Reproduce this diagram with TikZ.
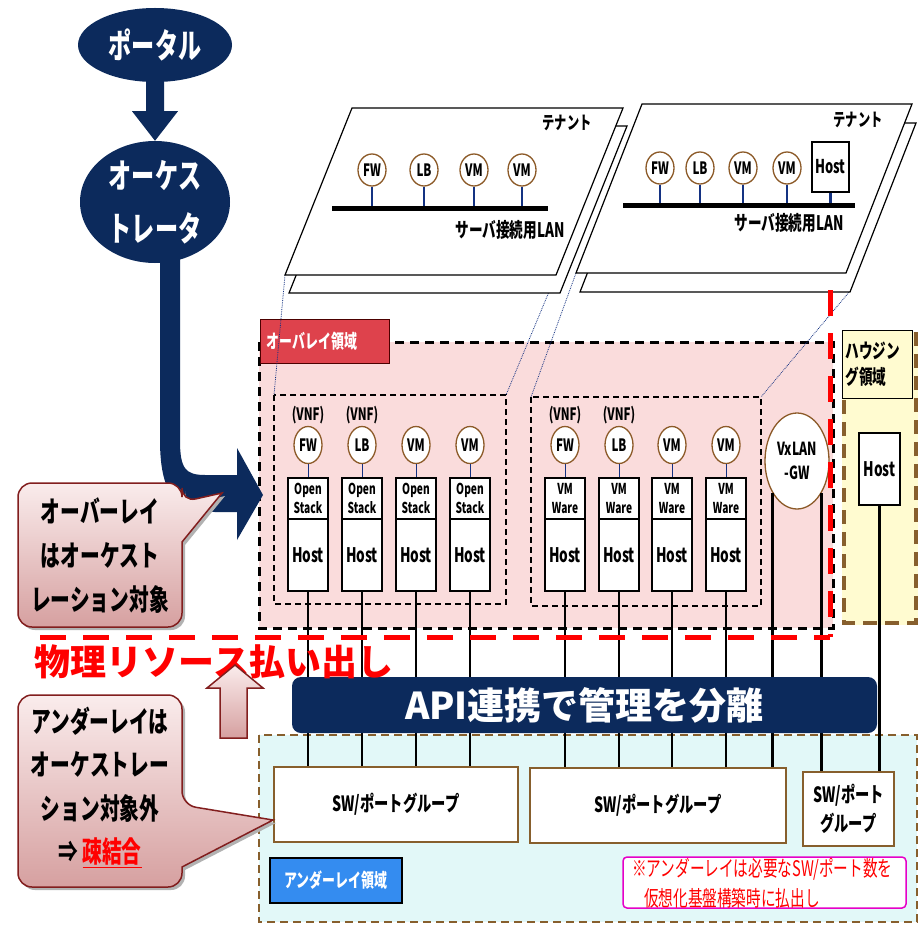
\documentclass[tikz,border=0pt]{standalone}
\usepackage{fontspec}
\setmainfont{Noto Sans CJK JP}[FakeStretch=0.68]
\newfontfamily\jpn{Noto Sans CJK JP}
\usetikzlibrary{shapes.geometric,calc}
\newcommand\myfs[1]{\fontsize{#1}{#1}\selectfont}
\newcommand\myfsl[2]{\fontsize{#1}{#2}\selectfont}
\definecolor{navy}{RGB}{12,42,92}
\definecolor{ovfill}{RGB}{250,220,220}
\definecolor{unfill}{RGB}{226,248,248}
\definecolor{hsfill}{RGB}{255,251,208}
\definecolor{brownb}{RGB}{135,95,45}
\definecolor{ovlabel}{RGB}{222,66,76}
\definecolor{unlabel}{RGB}{52,140,240}
\definecolor{cpt}{RGB}{250,236,236}
\definecolor{cpb}{RGB}{214,160,160}
\definecolor{cborder}{RGB}{130,30,30}
\definecolor{circb}{RGB}{140,90,40}
\definecolor{stem}{RGB}{20,50,130}
\definecolor{notemag}{RGB}{230,0,200}
\definecolor{pureRed}{RGB}{255,0,0}
\begin{document}
\begin{tikzpicture}[x=1pt,y=-1pt,
 every node/.style={inner sep=0pt},
 navyshape/.style={ellipse, fill=navy, inner sep=0pt},
 wtext/.style={text=white, align=center},
 ubox/.style={draw, line width=1.2, fill=white, minimum width=40, minimum height=41, align=center, font=\bfseries\myfsl{15}{19.5}},
 hbox/.style={draw, line width=1.2, fill=white, minimum width=40, minimum height=72, font=\bfseries\myfs{20}},
 vcirc/.style={ellipse, draw=circb, line width=1.3, fill=white, minimum width=28, minimum height=37, font=\bfseries\myfs{17}},
 tcirc/.style={ellipse, draw=circb, line width=1.3, fill=white, minimum width=28, minimum height=32, font=\bfseries\myfs{17}},
 tstem/.style={draw=stem, line width=2.5},
 thinstem/.style={draw=stem, line width=0.8},
 wire/.style={draw=black, line width=2.8},
 vnflab/.style={font=\bfseries\myfs{17}},
 swbox/.style={draw=brownb, line width=1.3, fill=white, align=center, font=\bfseries\myfsl{21}{29}},
 plane/.style={draw=black, line width=1.2, fill=white},
 proj/.style={draw=stem, densely dotted, line width=0.8},
 innerdash/.style={draw=black, line width=1.5, dash pattern=on 6pt off 4pt},
 ovdash/.style={draw=black, line width=3, dash pattern=on 9pt off 6pt},
 undash/.style={draw=brownb, line width=2.5, dash pattern=on 8pt off 5pt},
 hsdash/.style={draw=brownb, line width=4, dash pattern=on 14pt off 8pt},
 reddash/.style={draw=pureRed, line width=5, dash pattern=on 26pt off 17pt},
 callout/.style={draw=cborder, line width=1.5, top color=cpt, bottom color=cpb},
 cshadow/.style={fill=black!30},
 ctext/.style={align=center, font=\bfseries\myfsl{29}{44}}
]
\useasboundingbox (0,0) rectangle (921,925);
\fill[white] (0,0) rectangle (921,925);

% ---------- regions ----------
\fill[unfill] (259,735) rectangle (917,922);
\draw[undash] (259,735) rectangle (917,922);
\fill[ovfill] (259,342) rectangle (833,628);
\draw[ovdash] (259,342) rectangle (833,628);
\fill[hsfill] (842,332) rectangle (918,625);
\draw[hsdash] (844,334) rectangle (916,623);

\node[draw=black!70!red, line width=1.2, fill=ovlabel, minimum width=129, minimum height=44, text=white, font=\bfseries\myfs{19}, anchor=north west, inner xsep=6pt, text width=117pt] (ovlab) at (260,319) {オーバレイ領域};
\node[draw=black, line width=0.8, fill=hsfill, minimum width=70, minimum height=68, align=left, anchor=north west, font=\bfseries\myfsl{20}{26}, text width=64pt, inner xsep=3pt] (hslab) at (842,330) {ハウジン\\グ領域};
\node[draw=black, line width=1.5, fill=unlabel, minimum width=132, minimum height=45, text=white, font=\bfseries\myfs{19}] (unlab) at (336,880.5) {アンダーレイ領域};

% inner dashed groups
\coordinate (ib1tl) at (274,395); \coordinate (ib1tr) at (506,395);
\coordinate (ib2tl) at (531,397); \coordinate (ib2tr) at (761,397);
\draw[innerdash] (ib1tl) rectangle (506,604);
\draw[innerdash] (ib2tl) rectangle (761,606);

% ---------- tenant planes ----------
\coordinate (p1a) at (285,275); \coordinate (p1b) at (556,275);
\coordinate (p1c) at (623,108); \coordinate (p1d) at (352,108);
\coordinate (p2a) at (576,273); \coordinate (p2b) at (846,273);
\coordinate (p2c) at (912,104); \coordinate (p2d) at (642,104);

\draw[proj] (p1a) -- (ib1tl);
\draw[proj] (p1b) -- (ib1tr);
\draw[proj] (p2a) -- (ib2tl);
\draw[proj] ($(p2b)+(4,18)$) -- (ib2tr);

\draw[plane] ($(p1a)+(4,18)$) -- ($(p1b)+(4,18)$) -- ($(p1c)+(4,18)$) -- ($(p1d)+(4,18)$) -- cycle;
\draw[plane] (p1a) -- (p1b) -- (p1c) -- (p1d) -- cycle;
\draw[plane] ($(p2a)+(4,19)$) -- ($(p2b)+(4,19)$) -- ($(p2c)+(4,19)$) -- ($(p2d)+(4,19)$) -- cycle;
\draw[plane] (p2a) -- (p2b) -- (p2c) -- (p2d) -- cycle;

% tenant 1
\node[font=\bfseries\myfs{18}] (ten1) at (567,123) {テナント};
\coordinate (b1l) at (332,209); \coordinate (b1r) at (548,209);
\foreach \n/\x/\t in {a/372/FW, b/424/LB, c/474/VM, d/522/VM}{
  \node[tcirc] (t1\n) at (\x,170) {\t};
  \draw[tstem] (t1\n.south) -- (t1\n.south |- b1l);
}
\draw[line width=5] (b1l) -- (b1r);
\node[font=\bfseries\myfs{20}] (lan1) at (510,230) {サーバ接続用LAN};

% tenant 2
\node[font=\bfseries\myfs{18}] (ten2) at (858,120) {テナント};
\coordinate (b2l) at (623,206); \coordinate (b2r) at (855,206);
\foreach \n/\x/\t in {a/660/FW, b/700/LB, c/743/VM, d/787/VM}{
  \node[tcirc] (t2\n) at (\x,168) {\t};
  \draw[tstem] (t2\n.south) -- (t2\n.south |- b2l);
}
\node[draw, line width=1.2, fill=white, minimum width=37, minimum height=50, font=\bfseries\myfs{19}] (t2h) at (830.5,167) {Host};
\draw[tstem] (t2h.south) -- (t2h.south |- b2l);
\draw[line width=5] (b2l) -- (b2r);
\node[font=\bfseries\myfs{20}] (lan2) at (789,223) {サーバ接続用LAN};

% ---------- underlay SW boxes ----------
\node[swbox, minimum width=244, minimum height=75] (sw1) at (396,804.5) {SW/ポートグループ};
\node[swbox, minimum width=256, minimum height=75] (sw2) at (658,805.5) {SW/ポートグループ};
\node[swbox, minimum width=91, minimum height=74] (sw3) at (848.5,809) {SW/ポート\\グループ};
\node[draw=notemag, line width=1.5, rounded corners=4, fill=white, minimum width=283, minimum height=51] (note) at (764.5,882.5) {};
\node[text=pureRed, align=left, font=\myfsl{21.5}{30}, anchor=west] (notet) at (632,883) {※アンダーレイは必要なSW/ポート数を\\\hspace*{12pt}仮想化基盤構築時に払出し};

% ---------- overlay hosts ----------
\foreach \i/\x/\t/\v in {1/308/FW/1, 2/362/LB/1, 3/416/VM/0, 4/470/VM/0}{
  \node[ubox] (os\i) at (\x,498.5) {Open\\Stack};
  \node[hbox] (oh\i) at (\x,555) {Host};
  \node[vcirc] (oc\i) at (\x,445) {\t};
  \draw[thinstem] (oc\i.south) -- (os\i.north);
  \ifnum\v=1 \node[vnflab] (ov\i) at (\x,415) {(VNF)}; \fi
  \draw[wire] (oh\i.south) -- (oh\i.south |- sw1.north);
}
\foreach \i/\x/\t/\v in {1/565/FW/1, 2/619/LB/1, 3/672/VM/0, 4/726/VM/0}{
  \node[ubox] (ws\i) at (\x,498.5) {VM\\Ware};
  \node[hbox] (wh\i) at (\x,555) {Host};
  \node[vcirc] (wc\i) at (\x,445) {\t};
  \draw[thinstem] (wc\i.south) -- (ws\i.north);
  \ifnum\v=1 \node[vnflab] (wv\i) at (\x,415) {(VNF)}; \fi
  \draw[wire] (wh\i.south) -- (wh\i.south |- sw2.north);
}
\node[ellipse, draw=circb, line width=1.3, fill=white, minimum width=64, minimum height=96, align=center, font=\bfseries\myfsl{18}{24}] (vx) at (797,461) {VxLAN\\-GW};
\draw[wire] (vx.-127) -- (vx.-127 |- sw2.north);
\draw[wire] (vx.-53) -- (vx.-53 |- sw3.north);
\node[draw, line width=1.2, fill=white, minimum width=41, minimum height=72, font=\bfseries\myfs{20}] (hh) at (879.5,469) {Host};
\draw[wire] (hh.south) -- (hh.south |- sw3.north);

% ---------- red dashed boundary ----------
\coordinate (rl) at (40,637); \coordinate (rc) at (830,637); \coordinate (rt) at (830,290);
\draw[reddash] (rl) -- (rc);
\draw[reddash] (rt) -- (rc);

% ---------- API box and title ----------
\node[fill=navy, rounded corners=9, minimum width=585, minimum height=56, text=white, font=\jpn\bfseries\myfs{37}] (api) at (584.5,705) {API連携で管理を分離};
\node[text=pureRed, font=\jpn\bfseries\myfs{36}] (phys) at (214,662) {物理リソース払い出し};

% ---------- portal / orchestrator ----------
\node[navyshape, minimum width=154, minimum height=74] (portal) at (155,45) {};
\node[wtext, font=\bfseries\myfs{34}] (portalt) at (portal.center) {ポータル};
\node[navyshape, minimum width=150, minimum height=122] (orch) at (155,202) {};
\node[wtext, font=\bfseries\myfsl{34}{53}] (orcht) at (orch.center) {オーケス\\トレータ};
\fill[navy] ($(portal.south)+(-9,-4)$) -- ($(portal.south)+(9,-4)$) -- ($(portal.south)+(9,29)$)
  -- ($(portal.south)+(23,29)$) -- (orch.north) -- ($(portal.south)+(-23,29)$) -- ($(portal.south)+(-9,29)$) -- cycle;
% big bent arrow
\fill[navy] ($(orch.south)+(5,-12)$) -- (160,440) .. controls (160,500) and (180,512) .. (215,512) -- (237,512) -- (237,540)
  -- (263,495) -- (237,448) -- (237,475) -- (205,475) .. controls (185,475) and (180,468) .. (180,440) -- ($(orch.south)+(25,-12)$) -- cycle;

% ---------- callouts ----------
\fill[cshadow, xshift=3pt, yshift=-3pt, rounded corners=14] (100,483) -- (182,483) -- (182,502) [sharp corners] -- (222,493) -- (182,542) -- (182,560) [rounded corners=14] -- (182,627) -- (18,627) -- (18,483) -- cycle;
\path[callout, rounded corners=14] (100,483) -- (182,483) -- (182,502) [sharp corners] -- (222,493) -- (182,542) -- (182,560) [rounded corners=14] -- (182,627) -- (18,627) -- (18,483) -- cycle;
\node[ctext] (c1t) at (100,556) {オーバーレイ\\はオーケスト\\レーション対象};

\fill[cshadow, xshift=3pt, yshift=-3pt, rounded corners=14] (100,695) -- (182,695) -- (182,805) [sharp corners] -- (273,820) -- (182,867) -- (182,872) [rounded corners=14] -- (182,887) -- (18,887) -- (18,695) -- cycle;
\path[callout, rounded corners=14] (100,695) -- (182,695) -- (182,805) [sharp corners] -- (273,820) -- (182,867) -- (182,872) [rounded corners=14] -- (182,887) -- (18,887) -- (18,695) -- cycle;
\node[ctext, font=\bfseries\myfsl{29}{43.5}] (c2t) at (100,787) {アンダーレイは\\オーケストレー\\ション対象外\\⇒ \textcolor{pureRed}{\underline{疎結合}}};

% hollow up arrow
\path[callout] (220,738) -- (220,688) -- (207,688) -- (235,665) -- (263,688) -- (247,688) -- (247,738) -- cycle;
\end{tikzpicture}
\end{document}
